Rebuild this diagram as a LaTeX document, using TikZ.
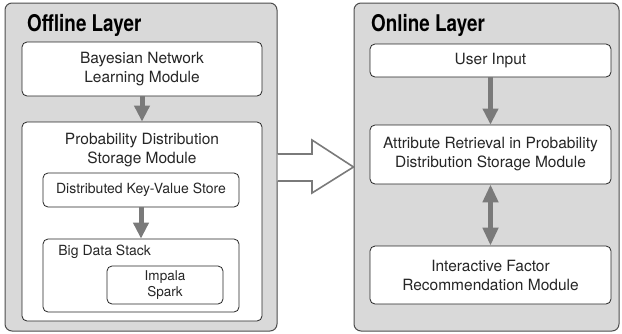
\documentclass[tikz,border=0pt]{standalone}
\usepackage{fontspec}
\setmainfont{TeX Gyre Heros}
\newfontfamily\titlefont[FakeStretch=0.82]{TeX Gyre Heros}
\usetikzlibrary{arrows.meta}
\definecolor{layerfill}{HTML}{D9D9D9}
\definecolor{layerline}{HTML}{4D4D4D}
\definecolor{arrowgray}{HTML}{7A7A7A}
\definecolor{textcol}{HTML}{262626}
\tikzset{
  layer/.style={draw=layerline, fill=layerfill, rounded corners=7pt, line width=1pt, inner sep=0pt},
  modbox/.style={draw=black!85, fill=white, rounded corners=5pt, line width=0.8pt, align=center,
     inner sep=0pt, text=textcol, font=\fontsize{15.5}{19}\selectfont},
  smallbox/.style={modbox, font=\fontsize{14}{16.5}\selectfont},
  ttl/.style={font=\titlefont\bfseries\fontsize{23}{26}\selectfont, text=black, inner sep=0pt, anchor=base west},
  flow/.style={draw=arrowgray, line width=5pt, -{Triangle[width=15pt,length=16pt]}},
  flowboth/.style={draw=arrowgray, line width=5pt, {Triangle[width=15pt,length=18pt]}-{Triangle[width=15pt,length=18pt]}},
  bigarrow/.style={draw=arrowgray, fill=white, line width=1.6pt, line join=miter}
}
\begin{document}
\begin{tikzpicture}[x=1pt,y=-1pt]
\useasboundingbox (0,0) rectangle (622,333);
% layers
\node[layer, minimum width=272pt, minimum height=328pt] (offline) at (141,167) {};
\node[layer, minimum width=265pt, minimum height=328pt] (online) at (486.5,167) {};
\node[ttl] (offt) at (27,31) {Offline Layer};
\node[ttl] (ont) at (371,31) {Online Layer};
% offline modules
\node[modbox, minimum width=240pt, minimum height=54pt] (bayes) at (142,69) {Bayesian Network\\Learning Module};
\node[modbox, minimum width=240pt, minimum height=199pt] (prob) at (142,221.5) {};
\node[modbox, draw=none, fill=none] (probt) at (142,150) {Probability Distribution\\Storage Module};
\node[smallbox, minimum width=196pt, minimum height=34pt] (kv) at (141,190) {Distributed Key-Value Store};
\node[smallbox, minimum width=196pt, minimum height=73pt] (bds) at (141,275.5) {};
\node[smallbox, draw=none, fill=none, anchor=west] (bdst) at (58,252) {Big Data Stack};
\node[smallbox, minimum width=116pt, minimum height=38pt, font=\fontsize{13.5}{16}\selectfont] (imp) at (165,285) {Impala\\Spark};
% online modules
\node[modbox, minimum width=241pt, minimum height=33pt] (user) at (490.5,60.5) {User Input};
\node[modbox, minimum width=241pt, minimum height=59pt] (attr) at (490.5,154.5) {Attribute Retrieval in Probability\\Distribution Storage Module};
\node[modbox, minimum width=241pt, minimum height=58pt] (inter) at (490.5,275) {Interactive Factor\\Recommendation Module};
% arrows
\draw[flow] (bayes.south) -- (prob.north);
\draw[flow] (kv.south) -- (bds.north);
\draw[flow] (user.south) -- (attr.north);
\draw[flowboth] (attr.south) -- (inter.north);
% big hollow arrow
\draw[bigarrow] (offline.east |- 0,154) -- (312,154) -- (312,140) -- (online.west |- 0,167) -- (312,193) -- (312,181) -- (offline.east |- 0,181);
\end{tikzpicture}
\end{document}
